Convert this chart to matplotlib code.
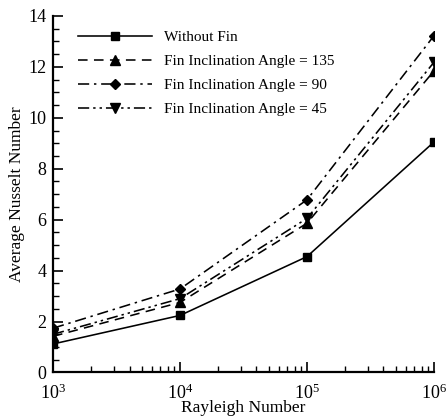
#!/usr/bin/env python

import numpy as np
import matplotlib
matplotlib.use('Agg')
import matplotlib.pyplot as plt
import matplotlib.ticker as ticker

# data
rayleigh = [1e3, 1e4, 1e5, 1e6]
nu_nofin = [1.12, 2.24, 4.55, 9.05]
nu_135 = [1.42, 2.75, 5.86, 11.84]
nu_90 = [1.74, 3.28, 6.78, 13.22]
nu_45 = [1.50, 2.90, 6.05, 12.18]

labels = ['Without Fin',
	'Fin Inclination Angle = 135',
	'Fin Inclination Angle = 90',
	'Fin Inclination Angle = 45']

plt.rcParams['font.family'] = ['Liberation Serif', 'DejaVu Serif']
plt.rcParams['mathtext.fontset'] = 'custom'
plt.rcParams['mathtext.rm'] = 'Liberation Serif'

fig = plt.figure(figsize=(4.46, 4.19), dpi=100)
ax = fig.add_axes([0.119, 0.111, 0.854, 0.851])

lw = 1.15
ax.plot(rayleigh, nu_nofin, color='k', lw=lw, ls='-', marker='s', ms=6, label=labels[0])
ax.plot(rayleigh, nu_135, color='k', lw=lw, ls=(0, (6, 4)), marker='^', ms=6.5, label=labels[1])
ax.plot(rayleigh, nu_90, color='k', lw=lw, ls=(0, (7, 3, 1.5, 3)), marker='D', ms=5.5, label=labels[2])
ax.plot(rayleigh, nu_45, color='k', lw=lw, ls=(0, (7, 2.5, 1.5, 2.5, 1.5, 2.5)), marker='v', ms=6.5, label=labels[3])

ax.set_xscale('log')
ax.set_xlim(1e3, 1e6)
ax.set_ylim(0, 14)
ax.yaxis.set_major_locator(ticker.MultipleLocator(2))
ax.yaxis.set_minor_locator(ticker.MultipleLocator(0.5))
ax.xaxis.set_minor_locator(ticker.LogLocator(base=10, subs=np.arange(2, 10)))
ax.xaxis.set_minor_formatter(ticker.NullFormatter())

for s in ['top', 'right']:
	ax.spines[s].set_visible(False)
for s in ['left', 'bottom']:
	ax.spines[s].set_linewidth(1.6)

ax.tick_params(which='major', direction='in', length=7, width=1.2, labelsize=13)
ax.tick_params(which='minor', direction='in', length=4, width=1.0)
ax.tick_params(axis='x', which='major', pad=8)
ax.tick_params(axis='y', which='major', pad=5)

ax.set_xlabel('Rayleigh Number', fontsize=12.5, labelpad=-2)
ax.set_ylabel('Average Nusselt Number', fontsize=12.5, labelpad=2)

ax.legend(loc='upper left', bbox_to_anchor=(0.03, 0.998), frameon=False,
	fontsize=11, handlelength=4.8, handletextpad=0.8, labelspacing=0.68)

fig.savefig('out.png', dpi=100)
